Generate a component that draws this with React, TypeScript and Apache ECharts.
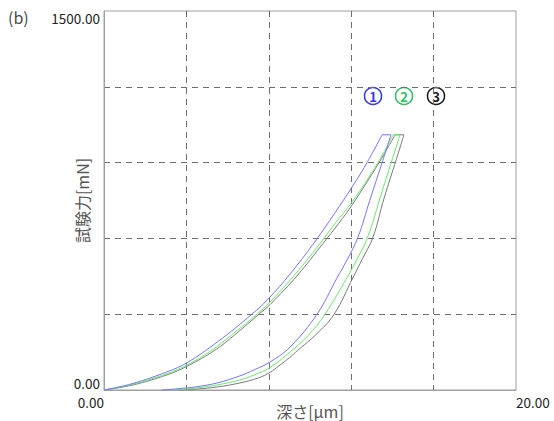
import React, { useEffect, useRef } from 'react';
import * as echarts from 'echarts';

// ---- axes ----
const X_MIN = 0;
const X_MAX = 20;
const X_INTERVAL = 4;
const Y_MIN = 0;
const Y_MAX = 1500;
const Y_INTERVAL = 300;
const X_NAME = '深さ[μm]';
const Y_NAME = '試験力[mN]';
const PANEL_LABEL = '(b)';

// ---- samples ----
const SAMPLE_LABELS = ['1', '2', '3'];
const LINE_COLORS = ['#7474ff', '#6ae86a', '#7a7a7a'];
const MARK_COLORS = ['#3535ff', '#2fbf63', '#1a1a1a'];

// sample 1 (blue)
const LOAD_DEPTH_1 = [0, 1.41, 3.06, 4.03, 5.5, 7.18, 8.06, 9.2, 10.3, 11.2, 12.04, 12.77, 13.5];
const LOAD_FORCE_1 = [0, 26, 72, 108, 190, 300, 368, 476, 594, 700, 803, 900, 1010];
const HOLD_DEPTH_1 = [13.5, 13.93];
const HOLD_FORCE_1 = [1010, 1010];
const UNLOAD_DEPTH_1 = [13.93, 13.5, 12.9, 12.33, 11.8, 11.3, 10.34, 9.03, 8.06, 7.3, 6.6, 5.5, 4.5, 3.6, 2.8];
const UNLOAD_FORCE_1 = [1010, 900, 750, 605, 515, 442, 300, 170, 111, 80, 56, 28, 13, 5, 0];

// sample 2 (green)
const LOAD_DEPTH_2 = [0, 1.41, 3.06, 4.03, 5.24, 6.3, 7.43, 8.06, 9.3, 10.49, 11.25, 12.04, 13.3, 14.03];
const LOAD_FORCE_2 = [0, 23, 65, 99, 158, 225, 300, 348, 460, 580, 663, 744, 900, 1010];
const HOLD_DEPTH_2 = [14.03, 14.37];
const HOLD_FORCE_2 = [1010, 1010];
const UNLOAD_DEPTH_2 = [14.37, 14.0, 13.4, 12.8, 12.3, 11.8, 10.73, 9.9, 9.1, 8.06, 7.3, 6.6, 5.5, 4.5, 3.4];
const UNLOAD_FORCE_2 = [1010, 915, 760, 605, 520, 445, 300, 215, 155, 89, 60, 40, 20, 8, 0];

// sample 3 (gray)
const LOAD_DEPTH_3 = [0, 1.41, 3.06, 4.03, 5.39, 6.4, 7.52, 8.06, 9.4, 10.63, 11.4, 12.04, 13.35, 14.13];
const LOAD_FORCE_3 = [0, 20, 60, 94, 158, 222, 300, 338, 455, 580, 660, 732, 900, 1010];
const HOLD_DEPTH_3 = [14.13, 14.56];
const HOLD_FORCE_3 = [1010, 1010];
const UNLOAD_DEPTH_3 = [14.56, 14.2, 13.6, 13.06, 12.55, 12.1, 11.17, 10.3, 9.42, 9.0, 8.5, 8.06, 7.5, 6.6, 5.5, 4.5, 3.6];
const UNLOAD_FORCE_3 = [1010, 915, 760, 605, 520, 447, 300, 220, 158, 128, 96, 70, 48, 28, 12, 4, 0];

const SAMPLES = [
  { load: [LOAD_DEPTH_1, LOAD_FORCE_1], hold: [HOLD_DEPTH_1, HOLD_FORCE_1], unload: [UNLOAD_DEPTH_1, UNLOAD_FORCE_1] },
  { load: [LOAD_DEPTH_2, LOAD_FORCE_2], hold: [HOLD_DEPTH_2, HOLD_FORCE_2], unload: [UNLOAD_DEPTH_2, UNLOAD_FORCE_2] },
  { load: [LOAD_DEPTH_3, LOAD_FORCE_3], hold: [HOLD_DEPTH_3, HOLD_FORCE_3], unload: [UNLOAD_DEPTH_3, UNLOAD_FORCE_3] },
];

const FONT = '"Noto Sans CJK JP", "Noto Sans", sans-serif';

const zip = (xs: number[], ys: number[]) => xs.map((x, i) => [x, ys[i]]);

export default function App() {
  const ref = useRef<HTMLDivElement>(null);

  useEffect(() => {
    document.body.style.margin = '0';
    if (!ref.current) return;
    const chart = echarts.init(ref.current, undefined, { renderer: 'svg' });

    const series: any[] = [];
    SAMPLES.forEach((s, i) => {
      (['load', 'hold', 'unload'] as const).forEach((part) => {
        const [xs, ys] = (s as any)[part];
        series.push({
          type: 'line',
          name: `${SAMPLE_LABELS[i]}-${part}`,
          data: zip(xs, ys),
          showSymbol: false,
          symbol: 'none',
          smooth: part === 'hold' ? false : 0.4,
          silent: true,
          z: 10 - i,
          lineStyle: { color: LINE_COLORS[i], width: 1 },
        });
      });
    });

    const markX = [373, 404, 436];
    const markY = 96;
    const graphic: any[] = [
      {
        type: 'text',
        left: 8,
        top: 9,
        style: { text: PANEL_LABEL, fill: '#4a4a4a', font: `16px ${FONT}` },
      },
    ];
    SAMPLE_LABELS.forEach((lab, i) => {
      graphic.push({
        type: 'group',
        x: markX[i],
        y: markY,
        children: [
          { type: 'circle', shape: { cx: 0, cy: 0, r: 8.5 }, style: { fill: '#fff', stroke: MARK_COLORS[i], lineWidth: 1.5 } },
          {
            type: 'text',
            x: 0,
            y: 0.5,
            style: {
              text: lab,
              fill: MARK_COLORS[i],
              font: `bold 13px ${FONT}`,
              align: 'center',
              verticalAlign: 'middle',
            },
          },
        ],
      });
    });

    const labelStyle = { color: '#222', fontSize: 13.5, fontFamily: FONT, lineHeight: 14 };

    chart.setOption({
      animation: false,
      grid: {
        left: 104,
        right: 38,
        top: 11,
        bottom: 31,
        outerBoundsMode: 'none',
        containLabel: false,
        show: true,
        borderColor: '#a0a0a0',
        borderWidth: 1,
        backgroundColor: '#fff',
      },
      xAxis: {
        type: 'value',
        min: X_MIN,
        max: X_MAX,
        interval: X_INTERVAL,
        name: X_NAME,
        nameLocation: 'middle',
        nameGap: 12,
        nameMoveOverlap: false,
        nameTextStyle: { color: '#555', fontSize: 16, fontFamily: FONT, lineHeight: 17 },
        axisLine: { show: true, lineStyle: { color: '#a0a0a0' } },
        axisTick: { show: false },
        axisLabel: {
          ...labelStyle,
          margin: 5,
          alignMinLabel: 'right',
          alignMaxLabel: 'left',
          formatter: (v: number) => (v === X_MIN || v === X_MAX ? v.toFixed(2) : ''),
        },
        splitLine: {
          show: true,
          showMinLine: false,
          showMaxLine: false,
          lineStyle: { color: '#6e6e6e', type: [6, 5], width: 1 },
        },
      },
      yAxis: {
        type: 'value',
        min: Y_MIN,
        max: Y_MAX,
        interval: Y_INTERVAL,
        name: Y_NAME,
        nameLocation: 'middle',
        nameGap: 14,
        nameMoveOverlap: false,
        nameTextStyle: { color: '#555', fontSize: 16, fontFamily: FONT },
        axisLine: { show: true, lineStyle: { color: '#a0a0a0' } },
        axisTick: { show: false },
        axisLabel: {
          ...labelStyle,
          margin: 4,
          verticalAlignMinLabel: 'bottom',
          verticalAlignMaxLabel: 'top',
          formatter: (v: number) => (v === Y_MIN || v === Y_MAX ? v.toFixed(2) : ''),
        },
        splitLine: {
          show: true,
          showMinLine: false,
          showMaxLine: false,
          lineStyle: { color: '#6e6e6e', type: [6, 5], width: 1 },
        },
      },
      graphic,
      series,
    });

    return () => chart.dispose();
  }, []);

  return <div ref={ref} style={{ width: 554, height: 421 }} />;
}
